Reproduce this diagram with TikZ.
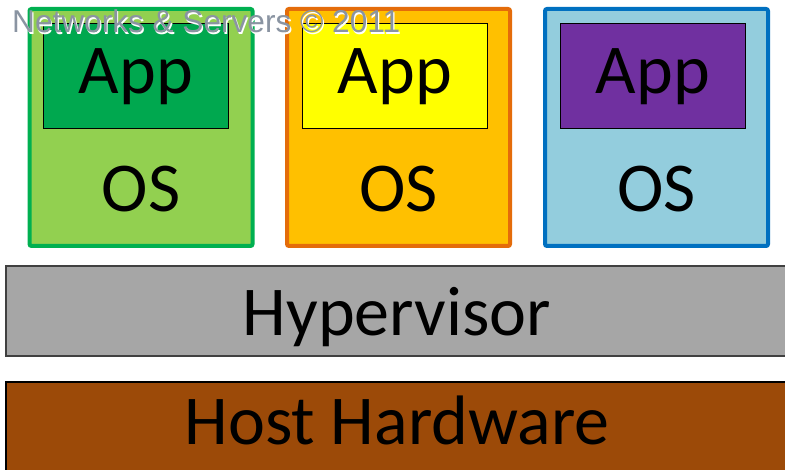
\documentclass[tikz,border=0pt]{standalone}
\usepackage{fontspec}
\setmainfont{Carlito}
\newfontfamily\markfont{Liberation Sans}
\definecolor{osgreen}{HTML}{92D050}
\definecolor{edgegreen}{HTML}{00B050}
\definecolor{appgreen}{HTML}{00A84F}
\definecolor{osorange}{HTML}{FFC000}
\definecolor{edgeorange}{HTML}{E46C0A}
\definecolor{appyellow}{HTML}{FFFF00}
\definecolor{osblue}{HTML}{93CDDD}
\definecolor{edgeblue}{HTML}{0070C0}
\definecolor{apppurple}{HTML}{7030A0}
\definecolor{hypgray}{HTML}{A6A6A6}
\definecolor{hypedge}{HTML}{404040}
\definecolor{hwbrown}{HTML}{9C4A08}
\definecolor{markgray}{HTML}{8A94A2}
\tikzset{
  osbox/.style={draw, line width=4pt, rounded corners=2pt, inner sep=0pt, outer sep=0pt,
    minimum width=223pt, minimum height=237pt},
  appbox/.style={draw=black, line width=1.8pt, inner sep=0pt, outer sep=0pt,
    minimum width=185pt, minimum height=105pt},
  layerbox/.style={draw, line width=2pt, inner sep=0pt, outer sep=0pt,
    minimum width=790pt, minimum height=90pt},
  bigtext/.style={font=\fontsize{70}{70}\selectfont, text=black, anchor=base, inner sep=0pt},
  marktext/.style={font=\markfont\fontsize{31.6}{31.6}\selectfont, anchor=base west, inner sep=0pt},
}
\begin{document}
\begin{tikzpicture}[x=1pt, y=-1pt]
  \useasboundingbox (0,0) rectangle (785,470);
  \fill[white] (0,0) rectangle (785,470);

  % guest machines: OS frame with an App box inside
  \node[osbox, draw=edgegreen, fill=osgreen] (os1) at (141,127.5) {};
  \node[osbox, draw=edgeorange, fill=osorange] (os2) at (398.5,127.5) {};
  \node[osbox, draw=edgeblue, fill=osblue] (os3) at (656.5,127.5) {};

  \node[appbox, fill=appgreen] (app1) at (136,76) {};
  \node[appbox, fill=appyellow] (app2) at (395,76) {};
  \node[appbox, fill=apppurple] (app3) at (653,76) {};

  \node[bigtext] (app1t) at (136,94) {App};
  \node[bigtext] (app2t) at (395,94) {App};
  \node[bigtext] (app3t) at (653,94) {App};

  \node[bigtext] (os1t) at (141,212) {OS};
  \node[bigtext] (os2t) at (398.5,212) {OS};
  \node[bigtext] (os3t) at (656.5,212) {OS};

  % shared layers
  \node[layerbox, draw=hypedge, fill=hypgray] (hyp) at (401,311.5) {};
  \node[bigtext] (hypt) at (397,336) {Hypervisor};

  \node[layerbox, draw=black, fill=hwbrown] (hw) at (401,427) {};
  \node[bigtext] (hwt) at (397,445) {Host Hardware};

  % copyright mark with a light halo
  \node[marktext, text=white] (markhalo) at (13.2,34.2) {Networks \& Servers © 2011};
  \node[marktext, text=markgray] (mark) at (12,33) {Networks \& Servers © 2011};
\end{tikzpicture}
\end{document}
